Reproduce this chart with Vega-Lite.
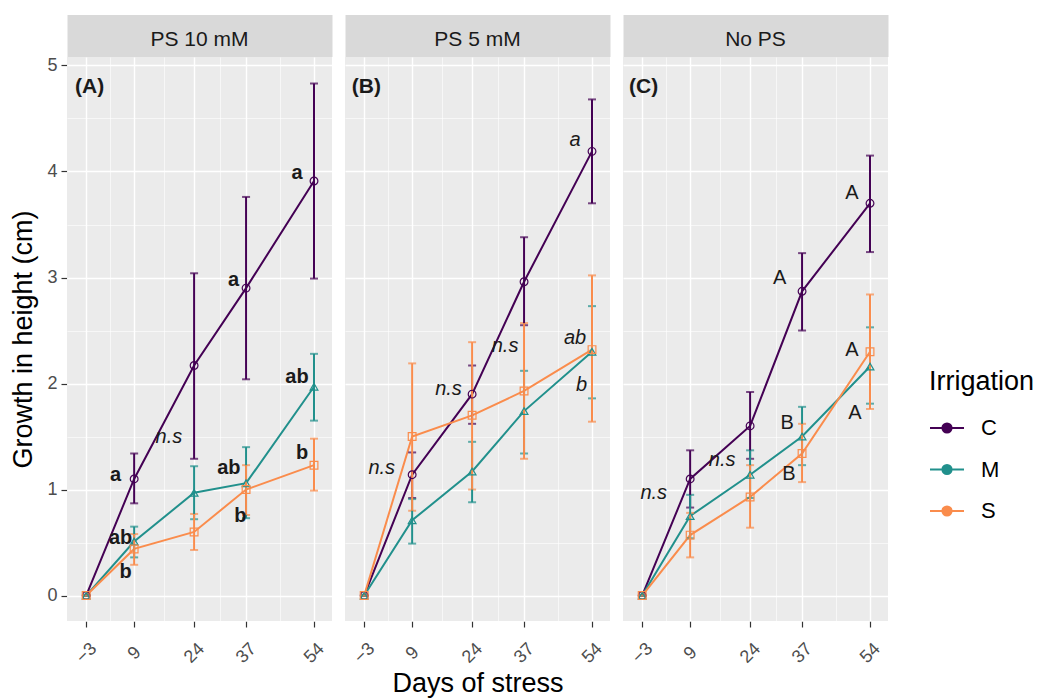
{
  "$schema": "https://vega.github.io/schema/vega-lite/v6.json",
  "padding": {"left": 9, "top": 29, "right": 5, "bottom": 5},
  "config": {
    "font": "Liberation Sans",
    "view": {"fill": "#EBEBEB", "stroke": null}
  },
  "spacing": 13,
  "data": {"values": [
    {"kind": "pt", "panel": "PS 10 mM", "irr": "C", "day": -3, "mean": 0, "lo": 0, "hi": 0},
    {"kind": "pt", "panel": "PS 10 mM", "irr": "C", "day": 9, "mean": 1.10, "lo": 0.87, "hi": 1.34},
    {"kind": "pt", "panel": "PS 10 mM", "irr": "C", "day": 24, "mean": 2.17, "lo": 1.29, "hi": 3.04},
    {"kind": "pt", "panel": "PS 10 mM", "irr": "C", "day": 37, "mean": 2.90, "lo": 2.04, "hi": 3.76},
    {"kind": "pt", "panel": "PS 10 mM", "irr": "C", "day": 54, "mean": 3.91, "lo": 2.99, "hi": 4.83},
    {"kind": "pt", "panel": "PS 10 mM", "irr": "M", "day": -3, "mean": 0, "lo": 0, "hi": 0},
    {"kind": "pt", "panel": "PS 10 mM", "irr": "M", "day": 9, "mean": 0.51, "lo": 0.36, "hi": 0.65},
    {"kind": "pt", "panel": "PS 10 mM", "irr": "M", "day": 24, "mean": 0.97, "lo": 0.72, "hi": 1.22},
    {"kind": "pt", "panel": "PS 10 mM", "irr": "M", "day": 37, "mean": 1.06, "lo": 0.73, "hi": 1.40},
    {"kind": "pt", "panel": "PS 10 mM", "irr": "M", "day": 54, "mean": 1.97, "lo": 1.65, "hi": 2.28},
    {"kind": "pt", "panel": "PS 10 mM", "irr": "S", "day": -3, "mean": 0, "lo": 0, "hi": 0},
    {"kind": "pt", "panel": "PS 10 mM", "irr": "S", "day": 9, "mean": 0.44, "lo": 0.29, "hi": 0.58},
    {"kind": "pt", "panel": "PS 10 mM", "irr": "S", "day": 24, "mean": 0.60, "lo": 0.43, "hi": 0.77},
    {"kind": "pt", "panel": "PS 10 mM", "irr": "S", "day": 37, "mean": 1.00, "lo": 0.76, "hi": 1.23},
    {"kind": "pt", "panel": "PS 10 mM", "irr": "S", "day": 54, "mean": 1.23, "lo": 0.99, "hi": 1.48},
    {"kind": "pt", "panel": "PS 5 mM", "irr": "C", "day": -3, "mean": 0, "lo": 0, "hi": 0},
    {"kind": "pt", "panel": "PS 5 mM", "irr": "C", "day": 9, "mean": 1.14, "lo": 0.92, "hi": 1.35},
    {"kind": "pt", "panel": "PS 5 mM", "irr": "C", "day": 24, "mean": 1.90, "lo": 1.62, "hi": 2.17},
    {"kind": "pt", "panel": "PS 5 mM", "irr": "C", "day": 37, "mean": 2.96, "lo": 2.55, "hi": 3.38},
    {"kind": "pt", "panel": "PS 5 mM", "irr": "C", "day": 54, "mean": 4.19, "lo": 3.70, "hi": 4.68},
    {"kind": "pt", "panel": "PS 5 mM", "irr": "M", "day": -3, "mean": 0, "lo": 0, "hi": 0},
    {"kind": "pt", "panel": "PS 5 mM", "irr": "M", "day": 9, "mean": 0.71, "lo": 0.49, "hi": 0.91},
    {"kind": "pt", "panel": "PS 5 mM", "irr": "M", "day": 24, "mean": 1.17, "lo": 0.88, "hi": 1.45},
    {"kind": "pt", "panel": "PS 5 mM", "irr": "M", "day": 37, "mean": 1.74, "lo": 1.34, "hi": 2.12},
    {"kind": "pt", "panel": "PS 5 mM", "irr": "M", "day": 54, "mean": 2.30, "lo": 1.86, "hi": 2.73},
    {"kind": "pt", "panel": "PS 5 mM", "irr": "S", "day": -3, "mean": 0, "lo": 0, "hi": 0},
    {"kind": "pt", "panel": "PS 5 mM", "irr": "S", "day": 9, "mean": 1.50, "lo": 0.80, "hi": 2.19},
    {"kind": "pt", "panel": "PS 5 mM", "irr": "S", "day": 24, "mean": 1.70, "lo": 1.00, "hi": 2.39},
    {"kind": "pt", "panel": "PS 5 mM", "irr": "S", "day": 37, "mean": 1.93, "lo": 1.29, "hi": 2.57},
    {"kind": "pt", "panel": "PS 5 mM", "irr": "S", "day": 54, "mean": 2.32, "lo": 1.64, "hi": 3.02},
    {"kind": "pt", "panel": "No PS", "irr": "C", "day": -3, "mean": 0, "lo": 0, "hi": 0},
    {"kind": "pt", "panel": "No PS", "irr": "C", "day": 9, "mean": 1.10, "lo": 0.83, "hi": 1.37},
    {"kind": "pt", "panel": "No PS", "irr": "C", "day": 24, "mean": 1.60, "lo": 1.29, "hi": 1.92},
    {"kind": "pt", "panel": "No PS", "irr": "C", "day": 37, "mean": 2.87, "lo": 2.50, "hi": 3.23},
    {"kind": "pt", "panel": "No PS", "irr": "C", "day": 54, "mean": 3.70, "lo": 3.24, "hi": 4.15},
    {"kind": "pt", "panel": "No PS", "irr": "M", "day": -3, "mean": 0, "lo": 0, "hi": 0},
    {"kind": "pt", "panel": "No PS", "irr": "M", "day": 9, "mean": 0.75, "lo": 0.54, "hi": 0.95},
    {"kind": "pt", "panel": "No PS", "irr": "M", "day": 24, "mean": 1.14, "lo": 0.92, "hi": 1.37},
    {"kind": "pt", "panel": "No PS", "irr": "M", "day": 37, "mean": 1.50, "lo": 1.23, "hi": 1.78},
    {"kind": "pt", "panel": "No PS", "irr": "M", "day": 54, "mean": 2.16, "lo": 1.81, "hi": 2.53},
    {"kind": "pt", "panel": "No PS", "irr": "S", "day": -3, "mean": 0, "lo": 0, "hi": 0},
    {"kind": "pt", "panel": "No PS", "irr": "S", "day": 9, "mean": 0.57, "lo": 0.36, "hi": 0.78},
    {"kind": "pt", "panel": "No PS", "irr": "S", "day": 24, "mean": 0.93, "lo": 0.64, "hi": 1.23},
    {"kind": "pt", "panel": "No PS", "irr": "S", "day": 37, "mean": 1.34, "lo": 1.07, "hi": 1.62},
    {"kind": "pt", "panel": "No PS", "irr": "S", "day": 54, "mean": 2.30, "lo": 1.76, "hi": 2.84},

    {"kind": "lab", "panel": "PS 10 mM", "style": "panel", "label": "(A)", "lx": -5.8, "ly": 4.8},
    {"kind": "lab", "panel": "PS 10 mM", "style": "bold", "label": "a", "lx": 4.35, "ly": 1.14},
    {"kind": "lab", "panel": "PS 10 mM", "style": "italic", "label": "n.s", "lx": 17.7, "ly": 1.50},
    {"kind": "lab", "panel": "PS 10 mM", "style": "bold", "label": "a", "lx": 33.9, "ly": 2.98},
    {"kind": "lab", "panel": "PS 10 mM", "style": "bold", "label": "a", "lx": 49.75, "ly": 3.99},
    {"kind": "lab", "panel": "PS 10 mM", "style": "bold", "label": "ab", "lx": 5.6, "ly": 0.54},
    {"kind": "lab", "panel": "PS 10 mM", "style": "bold", "label": "b", "lx": 6.85, "ly": 0.22},
    {"kind": "lab", "panel": "PS 10 mM", "style": "bold", "label": "ab", "lx": 32.7, "ly": 1.20},
    {"kind": "lab", "panel": "PS 10 mM", "style": "bold", "label": "b", "lx": 35.6, "ly": 0.75},
    {"kind": "lab", "panel": "PS 10 mM", "style": "bold", "label": "ab", "lx": 49.75, "ly": 2.06},
    {"kind": "lab", "panel": "PS 10 mM", "style": "bold", "label": "b", "lx": 51.0, "ly": 1.34},

    {"kind": "lab", "panel": "PS 5 mM", "style": "panel", "label": "(B)", "lx": -6.1, "ly": 4.8},
    {"kind": "lab", "panel": "PS 5 mM", "style": "italic", "label": "n.s", "lx": 1.4, "ly": 1.20},
    {"kind": "lab", "panel": "PS 5 mM", "style": "italic", "label": "n.s", "lx": 18.1, "ly": 1.95},
    {"kind": "lab", "panel": "PS 5 mM", "style": "italic", "label": "n.s", "lx": 32.25, "ly": 2.35},
    {"kind": "lab", "panel": "PS 5 mM", "style": "italic", "label": "a", "lx": 49.75, "ly": 4.30},
    {"kind": "lab", "panel": "PS 5 mM", "style": "italic", "label": "ab", "lx": 49.75, "ly": 2.43},
    {"kind": "lab", "panel": "PS 5 mM", "style": "italic", "label": "b", "lx": 51.4, "ly": 1.99},

    {"kind": "lab", "panel": "No PS", "style": "panel", "label": "(C)", "lx": -6.3, "ly": 4.8},
    {"kind": "lab", "panel": "No PS", "style": "italic", "label": "n.s", "lx": -0.1, "ly": 0.97},
    {"kind": "lab", "panel": "No PS", "style": "italic", "label": "n.s", "lx": 17.0, "ly": 1.28},
    {"kind": "lab", "panel": "No PS", "style": "plain", "label": "A", "lx": 31.4, "ly": 3.00},
    {"kind": "lab", "panel": "No PS", "style": "plain", "label": "A", "lx": 49.5, "ly": 3.80},
    {"kind": "lab", "panel": "No PS", "style": "plain", "label": "A", "lx": 49.5, "ly": 2.32},
    {"kind": "lab", "panel": "No PS", "style": "plain", "label": "A", "lx": 50.2, "ly": 1.72},
    {"kind": "lab", "panel": "No PS", "style": "plain", "label": "B", "lx": 33.25, "ly": 1.63},
    {"kind": "lab", "panel": "No PS", "style": "plain", "label": "B", "lx": 33.7, "ly": 1.15}
  ]},
  "facet": {
    "column": {
      "field": "panel", "type": "nominal",
      "sort": ["PS 10 mM", "PS 5 mM", "No PS"],
      "header": {
        "title": "Days of stress", "titleOrient": "bottom", "titleFontSize": 27,
        "titleFontWeight": "normal", "titleColor": "#000000", "titlePadding": -6,
        "labelOrient": "top", "labelFontSize": 21, "labelColor": "#1A1A1A", "labelPadding": -14.5
      }
    }
  },
  "spec": {
    "width": 265,
    "height": 564,
    "resolve": {"axis": {"x": "independent", "y": "independent"}},
    "layer": [
      {
        "transform": [{"filter": {"field": "kind", "equal": "pt"}}],
        "mark": {"type": "point", "opacity": 0},
        "encoding": {
          "x": {"field": "day", "type": "quantitative", "axis": null},
          "y": {"field": "mean", "type": "quantitative", "axis": null},
          "shape": {"field": "panel", "type": "nominal",
            "scale": {"domain": ["PS 10 mM", "PS 5 mM", "No PS"], "range": ["square", "square", "square"]},
            "legend": {
              "title": null, "orient": "none", "legendX": 862, "legendY": 347, "zindex": 0,
              "labelExpr": "''", "labelOffset": 0, "symbolSize": 1806, "rowPadding": 0,
              "symbolOpacity": 1, "symbolStrokeWidth": 0,
              "encode": {"symbols": {"update": {
                "fill": {"value": "#EBEBEB"}, "stroke": {"value": "#EBEBEB"},
                "opacity": {"value": 1}, "fillOpacity": {"value": 1}}}}
            }}
        }
      },
      {
        "transform": [{"filter": {"field": "kind", "equal": "pt"}}],
        "mark": {"type": "line", "strokeWidth": 2},
        "encoding": {
          "x": {"field": "day", "type": "quantitative",
            "scale": {"domain": [-7.8, 58.5], "nice": false, "zero": false},
            "axis": {"orient": "bottom", "values": [-3, 9, 24, 37, 54], "title": null,
              "grid": true, "gridColor": "#FFFFFF", "gridWidth": 1.4, "domain": false,
              "tickSize": 6, "tickColor": "#333333", "tickWidth": 1.2,
              "labelAngle": -45, "labelAlign": "center", "labelBaseline": "middle",
              "labelPadding": 26, "labelFontSize": 18, "labelColor": "#4D4D4D"}},
          "y": {"field": "mean", "type": "quantitative",
            "scale": {"domain": [-0.24, 5.08], "nice": false, "zero": false},
            "axis": {"orient": "left", "values": [0, 1, 2, 3, 4, 5], "title": "Growth in height (cm)",
              "grid": true, "gridColor": "#FFFFFF", "gridWidth": 1.4, "domain": false,
              "tickSize": 6, "tickColor": "#333333", "tickWidth": 1.2,
              "labelFontSize": 18, "labelColor": "#4D4D4D", "labelPadding": 4,
              "titleFontSize": 27, "titleFontWeight": "normal", "titleColor": "#000000", "titlePadding": 9}},
          "color": {"field": "irr", "type": "nominal",
            "scale": {"domain": ["C", "M", "S"], "range": ["#440154", "#21908C", "#FA8C4C"]},
            "legend": {
              "title": "Irrigation", "orient": "none", "legendX": 862, "legendY": 312, "zindex": 1,
              "titleFontSize": 27, "titleFontWeight": "normal", "titleColor": "#000000", "titlePadding": 14,
              "labelFontSize": 22, "labelColor": "#000000", "labelOffset": 16,
              "symbolType": "M-1,0L1,0M0.27,0A0.27,0.27,0,1,1,-0.27,0A0.27,0.27,0,1,1,0.27,0Z",
              "symbolSize": 1156, "symbolStrokeWidth": 2, "rowPadding": 12.5,
              "encode": {"symbols": {"update": {
                "fill": {"scale": "color", "field": "value"},
                "stroke": {"scale": "color", "field": "value"}}}}
            }}
        }
      },
      {
        "transform": [{"filter": {"field": "kind", "equal": "pt"}}],
        "mark": {"type": "errorbar", "ticks": true, "thickness": 2, "size": 8},
        "encoding": {
          "x": {"field": "day", "type": "quantitative",
            "axis": {"orient": "top", "values": [3, 16.5, 30.5, 45.5], "title": null,
              "grid": true, "gridColor": "#FFFFFF", "gridWidth": 0.6,
              "labels": false, "ticks": false,
              "domain": true, "domainWidth": 42, "domainColor": "#D9D9D9", "offset": 10.5}},
          "y": {"field": "lo", "type": "quantitative",
            "axis": {"orient": "right", "values": [0.5, 1.5, 2.5, 3.5, 4.5], "title": null,
              "grid": true, "gridColor": "#FFFFFF", "gridWidth": 0.6,
              "labels": false, "ticks": false, "domain": false}},
          "y2": {"field": "hi"},
          "color": {"field": "irr", "type": "nominal"}
        }
      },
      {
        "transform": [{"filter": "datum.kind === 'pt' && datum.irr === 'C'"}],
        "mark": {"type": "point", "shape": "circle", "filled": false, "size": 60, "strokeWidth": 1.2, "opacity": 1},
        "encoding": {
          "x": {"field": "day", "type": "quantitative", "axis": null},
          "y": {"field": "mean", "type": "quantitative", "axis": null},
          "color": {"field": "irr", "type": "nominal"}
        }
      },
      {
        "transform": [{"filter": "datum.kind === 'pt' && datum.irr === 'M'"}],
        "mark": {"type": "point", "shape": "triangle-up", "filled": false, "size": 60, "strokeWidth": 1.2, "opacity": 1},
        "encoding": {
          "x": {"field": "day", "type": "quantitative", "axis": null},
          "y": {"field": "mean", "type": "quantitative", "axis": null},
          "color": {"field": "irr", "type": "nominal"}
        }
      },
      {
        "transform": [{"filter": "datum.kind === 'pt' && datum.irr === 'S'"}],
        "mark": {"type": "point", "shape": "square", "filled": false, "size": 60, "strokeWidth": 1.2, "opacity": 1},
        "encoding": {
          "x": {"field": "day", "type": "quantitative", "axis": null},
          "y": {"field": "mean", "type": "quantitative", "axis": null},
          "color": {"field": "irr", "type": "nominal"}
        }
      },
      {
        "transform": [{"filter": {"field": "style", "equal": "bold"}}],
        "mark": {"type": "text", "fontSize": 20, "fontWeight": "bold", "color": "#1A1A1A", "align": "center", "baseline": "middle"},
        "encoding": {
          "x": {"field": "lx", "type": "quantitative", "axis": null},
          "y": {"field": "ly", "type": "quantitative", "axis": null},
          "text": {"field": "label"}
        }
      },
      {
        "transform": [{"filter": {"field": "style", "equal": "italic"}}],
        "mark": {"type": "text", "fontSize": 20, "fontStyle": "italic", "color": "#1A1A1A", "align": "center", "baseline": "middle"},
        "encoding": {
          "x": {"field": "lx", "type": "quantitative", "axis": null},
          "y": {"field": "ly", "type": "quantitative", "axis": null},
          "text": {"field": "label"}
        }
      },
      {
        "transform": [{"filter": {"field": "style", "equal": "plain"}}],
        "mark": {"type": "text", "fontSize": 20, "color": "#1A1A1A", "align": "center", "baseline": "middle"},
        "encoding": {
          "x": {"field": "lx", "type": "quantitative", "axis": null},
          "y": {"field": "ly", "type": "quantitative", "axis": null},
          "text": {"field": "label"}
        }
      },
      {
        "transform": [{"filter": {"field": "style", "equal": "panel"}}],
        "mark": {"type": "text", "fontSize": 21, "fontWeight": "bold", "color": "#1A1A1A", "align": "left", "baseline": "middle"},
        "encoding": {
          "x": {"field": "lx", "type": "quantitative", "axis": null},
          "y": {"field": "ly", "type": "quantitative", "axis": null},
          "text": {"field": "label"}
        }
      }
    ]
  }
}
